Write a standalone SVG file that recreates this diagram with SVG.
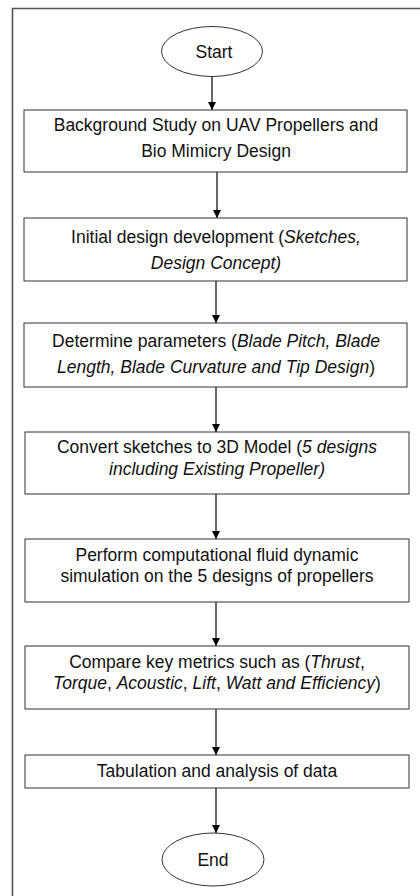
<svg xmlns="http://www.w3.org/2000/svg" width="420" height="896" viewBox="0 0 420 896">
<defs>
<marker id="ah" viewBox="0 0 10 10" refX="10" refY="5" markerWidth="8" markerHeight="8" markerUnits="userSpaceOnUse" orient="auto">
<path d="M0,0 L10,5 L0,10 z" fill="#000"/>
</marker>
<style>
.box{fill:#fff;stroke:#333;stroke-width:1}
.t{font-family:"Liberation Sans",Arial,sans-serif;font-size:17.5px;fill:#111;text-anchor:middle}
.i{font-style:italic}
.c{stroke:#000;stroke-width:1.2;fill:none;marker-end:url(#ah)}
</style>
</defs>
<rect width="420" height="896" fill="#fff"/>
<path d="M12.5,896 V8.5 H420" fill="none" stroke="#555" stroke-width="1.6"/>
<g id="connectors">
<line class="c" x1="212" y1="77" x2="212" y2="110"/>
<line class="c" x1="217" y1="172" x2="217" y2="218"/>
<line class="c" x1="216" y1="281" x2="216" y2="323"/>
<line class="c" x1="216" y1="387" x2="216" y2="432"/>
<line class="c" x1="216" y1="494" x2="216" y2="539"/>
<line class="c" x1="216" y1="602" x2="216" y2="646"/>
<line class="c" x1="216" y1="709" x2="216" y2="755"/>
<line class="c" x1="216" y1="788" x2="216" y2="833"/>
</g>
<g id="start">
<ellipse cx="212" cy="51.5" rx="50.5" ry="25" class="box"/>
<text class="t" x="214" y="57.5">Start</text>
</g>
<g id="n1">
<rect class="box" x="24" y="110" width="383" height="62"/>
<text class="t" x="216" y="131">Background Study on UAV Propellers and</text>
<text class="t" x="216" y="157">Bio Mimicry Design</text>
</g>
<g id="n2">
<rect class="box" x="24" y="218" width="383" height="63"/>
<text class="t" x="216" y="243">Initial design development (<tspan class="i">Sketches,</tspan></text>
<text class="t i" x="216" y="269">Design Concept)</text>
</g>
<g id="n3">
<rect class="box" x="24" y="323" width="383" height="64"/>
<text class="t" x="216" y="347">Determine parameters (<tspan class="i">Blade Pitch, Blade</tspan></text>
<text class="t" x="216" y="373"><tspan class="i">Length, Blade Curvature and Tip Design</tspan>)</text>
</g>
<g id="n4">
<rect class="box" x="25" y="432" width="384" height="62"/>
<text class="t" x="217" y="453">Convert sketches to 3D Model (<tspan class="i">5 designs</tspan></text>
<text class="t i" x="217" y="475">including Existing Propeller)</text>
</g>
<g id="n5">
<rect class="box" x="25" y="539" width="384" height="63"/>
<text class="t" x="217" y="561">Perform computational fluid dynamic</text>
<text class="t" x="217" y="582">simulation on the 5 designs of propellers</text>
</g>
<g id="n6">
<rect class="box" x="25" y="646" width="384" height="63"/>
<text class="t" x="217" y="668">Compare key metrics such as (<tspan class="i">Thrust</tspan>,</text>
<text class="t" x="217" y="689"><tspan class="i">Torque</tspan>, <tspan class="i">Acoustic</tspan>, <tspan class="i">Lift</tspan>, <tspan class="i">Watt and Efficiency</tspan>)</text>
</g>
<g id="n7">
<rect class="box" x="25" y="755" width="384" height="33"/>
<text class="t" x="217" y="777">Tabulation and analysis of data</text>
</g>
<g id="end">
<ellipse cx="213" cy="859.5" rx="51" ry="26.5" class="box"/>
<text class="t" x="213" y="866">End</text>
</g>
</svg>
